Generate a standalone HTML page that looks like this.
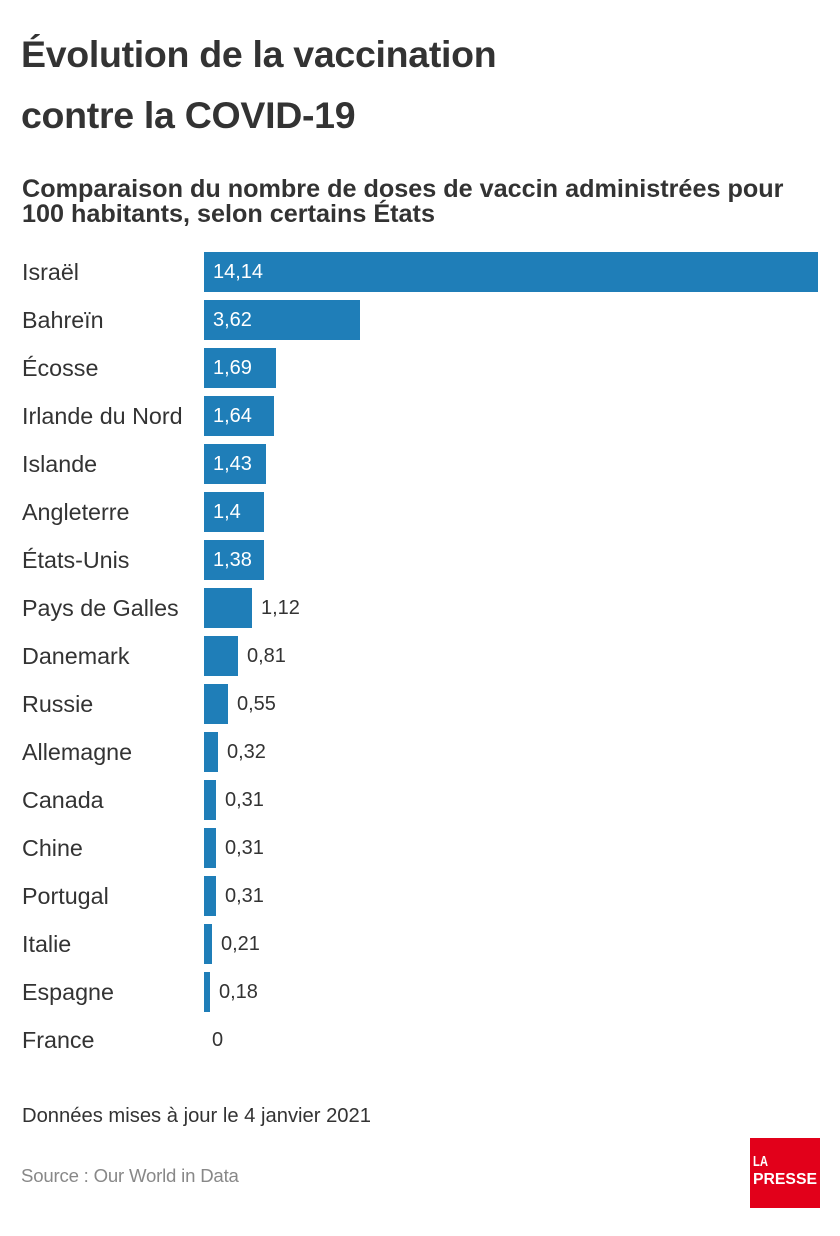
<!DOCTYPE html>
<html lang="fr">
<head>
<meta charset="utf-8">
<style>
  html, body { margin: 0; padding: 0; background: #ffffff; }
  body { width: 840px; height: 1236px; overflow: hidden; }
  svg { display: block; }
  text { font-family: "Liberation Sans", "DejaVu Sans", sans-serif; }
</style>
</head>
<body>
<svg width="840" height="1236" viewBox="0 0 840 1236" xmlns="http://www.w3.org/2000/svg">
  <rect x="0" y="0" width="840" height="1236" fill="#ffffff"/>

  <!-- Title -->
  <text x="21" y="67" font-size="37.5" font-weight="bold" fill="#333333" letter-spacing="-0.3">Évolution de la vaccination</text>
  <text x="21" y="128" font-size="37.5" font-weight="bold" fill="#333333" letter-spacing="-0.3">contre la COVID-19</text>

  <!-- Subtitle -->
  <text x="22" y="197" font-size="25.2" font-weight="bold" fill="#333333">Comparaison du nombre de doses de vaccin administrées pour</text>
  <text x="22" y="222" font-size="25.2" font-weight="bold" fill="#333333">100 habitants, selon certains États</text>

  <!-- Row labels -->
  <g font-size="23.3" fill="#333333">
    <text x="22" y="280">Israël</text>
    <text x="22" y="328">Bahreïn</text>
    <text x="22" y="376">Écosse</text>
    <text x="22" y="424">Irlande du Nord</text>
    <text x="22" y="472">Islande</text>
    <text x="22" y="520">Angleterre</text>
    <text x="22" y="568">États-Unis</text>
    <text x="22" y="616">Pays de Galles</text>
    <text x="22" y="664">Danemark</text>
    <text x="22" y="712">Russie</text>
    <text x="22" y="760">Allemagne</text>
    <text x="22" y="808">Canada</text>
    <text x="22" y="856">Chine</text>
    <text x="22" y="904">Portugal</text>
    <text x="22" y="952">Italie</text>
    <text x="22" y="1000">Espagne</text>
    <text x="22" y="1048">France</text>
  </g>

  <!-- Bars -->
  <g fill="#1f7eb8">
    <rect x="204" y="252" width="614" height="40"/>
    <rect x="204" y="300" width="156" height="40"/>
    <rect x="204" y="348" width="72" height="40"/>
    <rect x="204" y="396" width="70" height="40"/>
    <rect x="204" y="444" width="62" height="40"/>
    <rect x="204" y="492" width="60" height="40"/>
    <rect x="204" y="540" width="60" height="40"/>
    <rect x="204" y="588" width="48" height="40"/>
    <rect x="204" y="636" width="34" height="40"/>
    <rect x="204" y="684" width="24" height="40"/>
    <rect x="204" y="732" width="14" height="40"/>
    <rect x="204" y="780" width="12" height="40"/>
    <rect x="204" y="828" width="12" height="40"/>
    <rect x="204" y="876" width="12" height="40"/>
    <rect x="204" y="924" width="8" height="40"/>
    <rect x="204" y="972" width="6" height="40"/>
  </g>

  <!-- Value labels inside bars -->
  <g font-size="20" fill="#ffffff">
    <text x="213" y="278">14,14</text>
    <text x="213" y="326">3,62</text>
    <text x="213" y="374">1,69</text>
    <text x="213" y="422">1,64</text>
    <text x="213" y="470">1,43</text>
    <text x="213" y="518">1,4</text>
    <text x="213" y="566">1,38</text>
  </g>

  <!-- Value labels outside bars -->
  <g font-size="20" fill="#333333">
    <text x="261" y="614">1,12</text>
    <text x="247" y="662">0,81</text>
    <text x="237" y="710">0,55</text>
    <text x="227" y="758">0,32</text>
    <text x="225" y="806">0,31</text>
    <text x="225" y="854">0,31</text>
    <text x="225" y="902">0,31</text>
    <text x="221" y="950">0,21</text>
    <text x="219" y="998">0,18</text>
    <text x="212" y="1046">0</text>
  </g>

  <!-- Footer -->
  <text x="22" y="1122" font-size="20.2" fill="#333333">Données mises à jour le 4 janvier 2021</text>
  <text x="21" y="1182" font-size="18.6" fill="#888888" letter-spacing="-0.2">Source : Our World in Data</text>

  <!-- Logo -->
  <rect x="750" y="1138" width="70" height="70" fill="#e2001a"/>
  <text x="753" y="1166" font-size="15" font-weight="bold" fill="#ffffff" textLength="15" lengthAdjust="spacingAndGlyphs">LA</text>
  <text x="753" y="1184" font-size="16" font-weight="bold" fill="#ffffff" textLength="64" lengthAdjust="spacingAndGlyphs">PRESSE</text>
</svg>
</body>
</html>
